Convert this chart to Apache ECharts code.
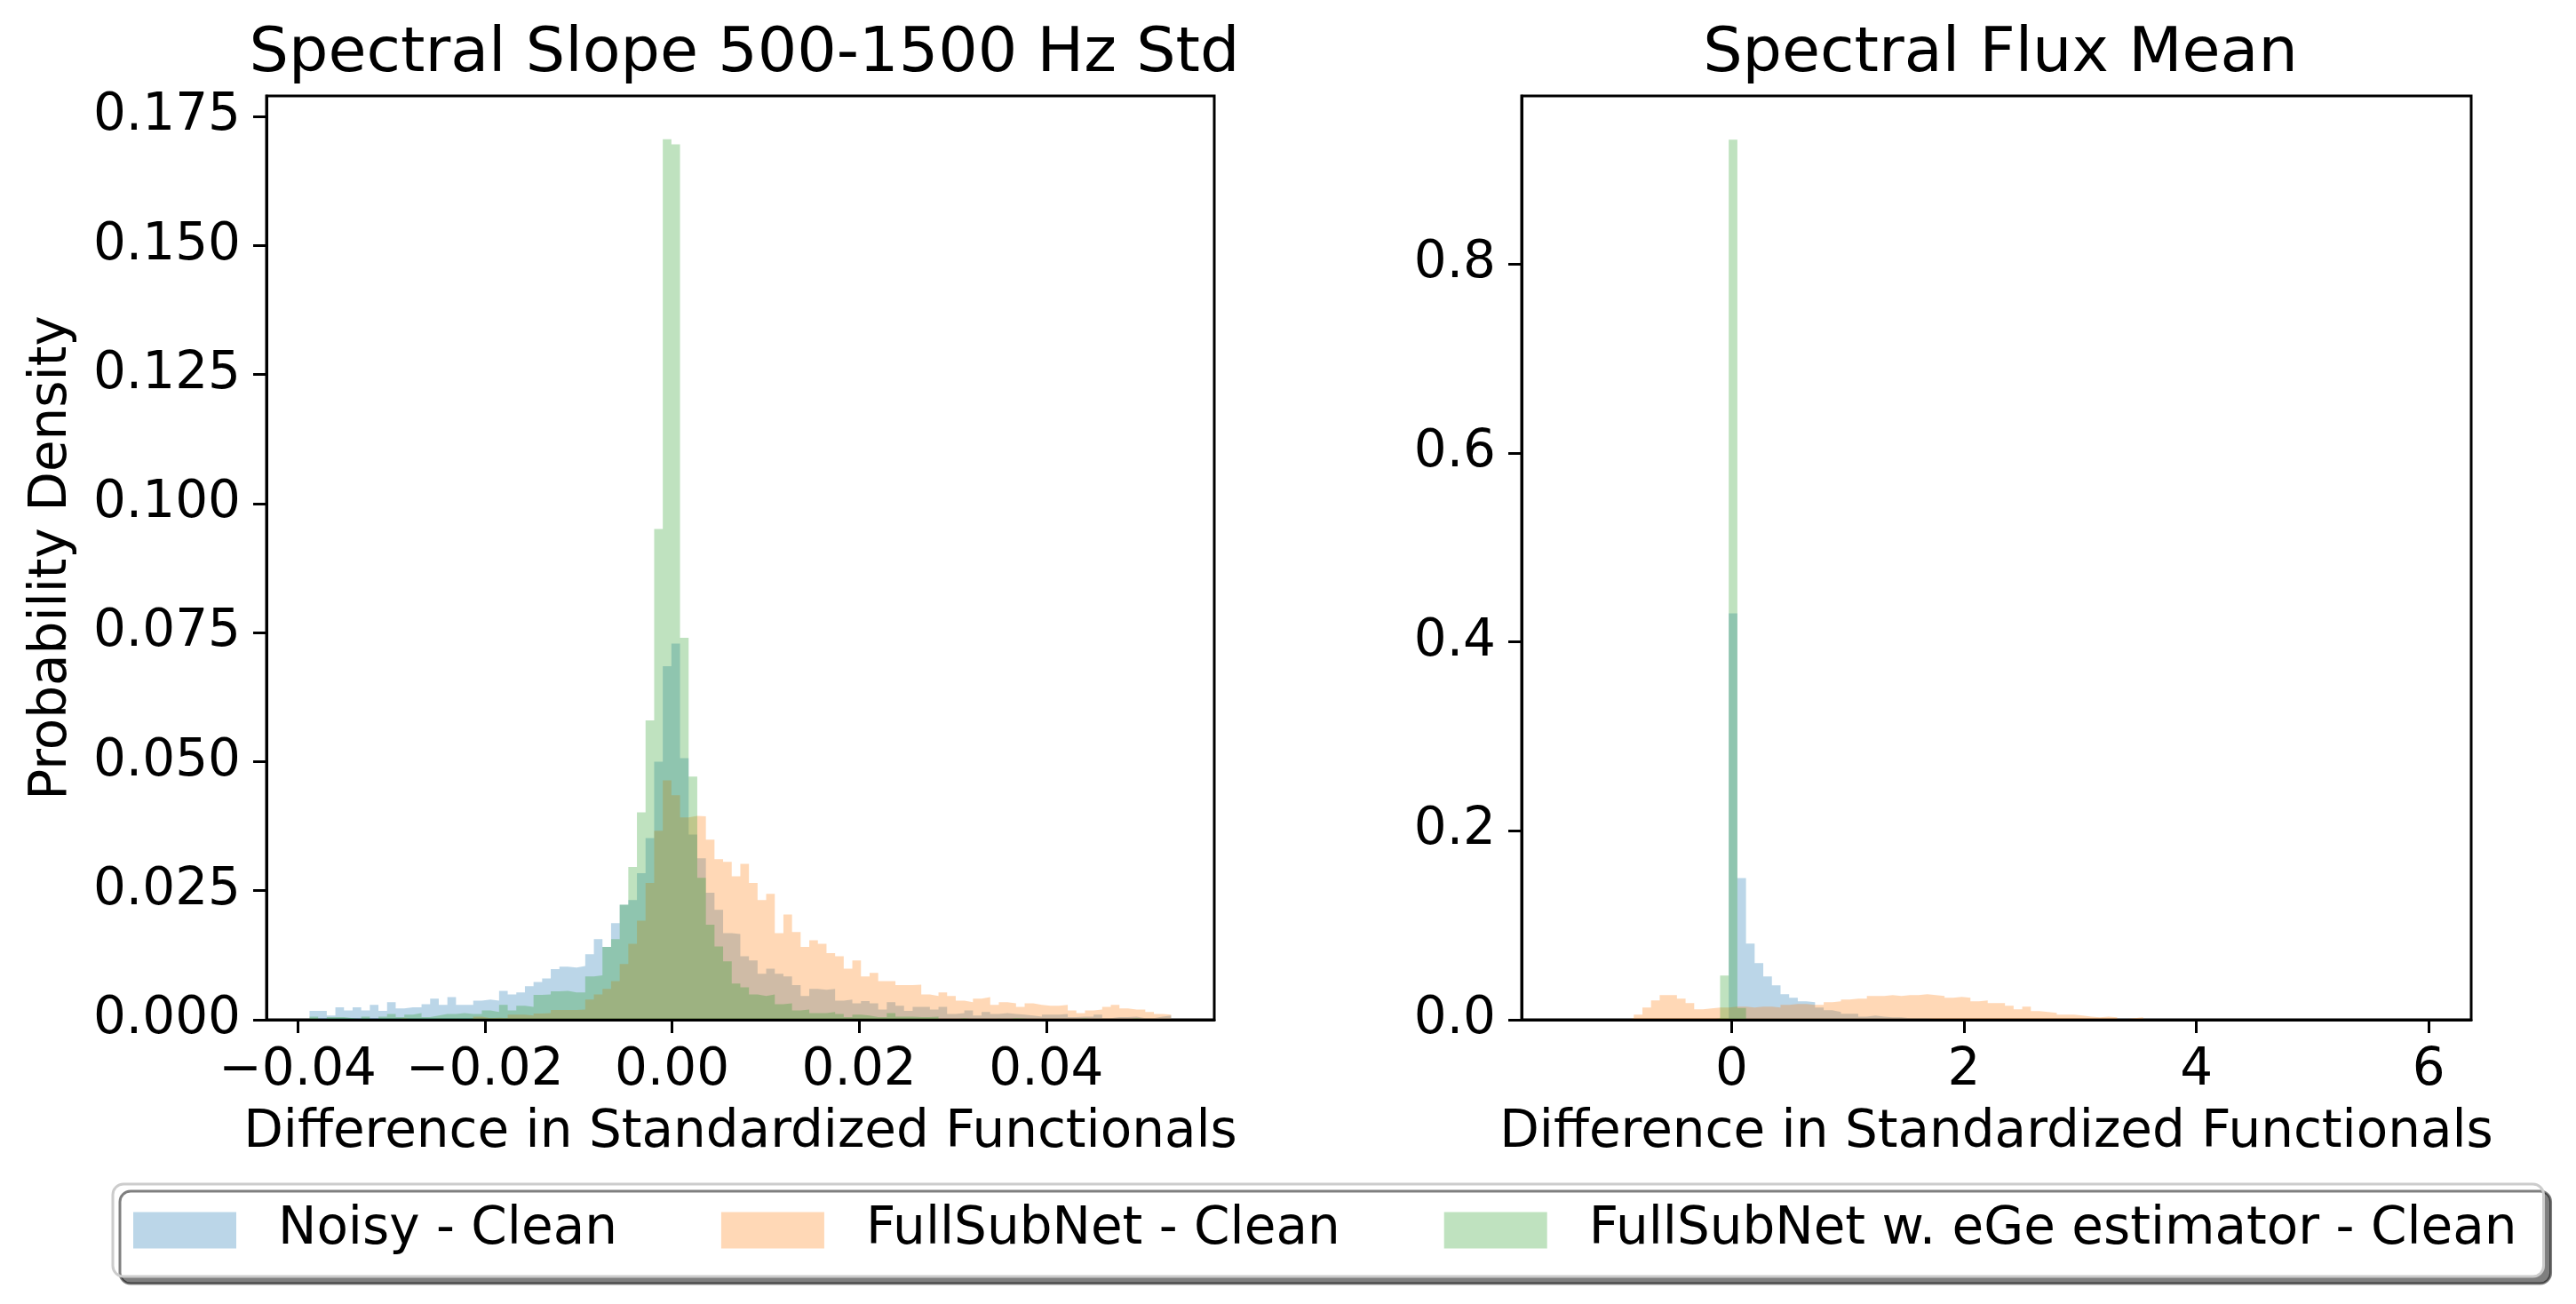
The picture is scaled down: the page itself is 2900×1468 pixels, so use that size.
<!DOCTYPE html>
<html><head><meta charset="utf-8">
<script src="https://cdn.jsdelivr.net/npm/echarts@6/dist/echarts.min.js"></script>
<style>html,body{margin:0;padding:0;background:#fff;}#c{width:2900px;height:1468px;}</style>
</head><body><div id="c"></div>
<script>
// ---------- data ----------
const seriesNames = ['Noisy - Clean', 'FullSubNet - Clean', 'FullSubNet w. eGe estimator - Clean'];
const leftTitle = 'Spectral Slope 500-1500 Hz Std';
const rightTitle = 'Spectral Flux Mean';
const xLabel = 'Difference in Standardized Functionals';
const yLabel = 'Probability Density';

// histogram bin ranges (100 equal bins each)
const leftBinRange = [-0.03873, 0.05334];
const rightBinRange = [-1.436, 5.993];

const leftNoisy = [
0.0017,0.0017,0.0008,0.0024,0.0018,0.0024,0.0018,0.0029,0.0017,0.0034,
0.0022,0.0024,0.0024,0.0030,0.0041,0.0029,0.0044,0.0029,0.0029,0.0037,
0.0039,0.0037,0.0056,0.0049,0.0053,0.0065,0.0073,0.0080,0.0098,0.0103,
0.0101,0.0104,0.0127,0.0156,0.0141,0.0187,0.0223,0.0232,0.0284,0.0352,
0.0500,0.0685,0.0729,0.0507,0.0359,0.0313,0.0246,0.0213,0.0168,0.0166,
0.0123,0.0115,0.0089,0.0099,0.0089,0.0084,0.0067,0.0046,0.0060,0.0058,
0.0060,0.0037,0.0039,0.0032,0.0036,0.0032,0.0020,0.0034,0.0027,0.0017,
0.0025,0.0025,0.0020,0.0025,0.0011,0.0013,0.0018,0.0008,0.0015,0.0011,
0.0013,0.0011,0.0010,0.0008,0.0006,0.0010,0.0010,0.0011,0.0005,0.0006,
0.0006,0.0010,0.0003,0.0005,0.0005,0.0006,0.0003,0.0003,0.0006,0.0008];
const leftFullSubNet = [
0.0002,0,0,0.0001,0,0,0.0001,0,0.0001,0.0001,
0.0003,0.0001,0.0001,0.0001,0.0002,0.0001,0.0002,0.0001,0.0002,0.0006,
0.0003,0.0004,0.0003,0.0010,0.0010,0.0008,0.0012,0.0013,0.0019,0.0019,
0.0019,0.0020,0.0039,0.0049,0.0060,0.0075,0.0108,0.0147,0.0192,0.0265,
0.0366,0.0464,0.0435,0.0392,0.0395,0.0394,0.0349,0.0311,0.0306,0.0278,
0.0302,0.0265,0.0232,0.0244,0.0168,0.0204,0.0170,0.0141,0.0154,0.0147,
0.0129,0.0123,0.0099,0.0115,0.0084,0.0091,0.0075,0.0075,0.0067,0.0067,
0.0068,0.0049,0.0046,0.0053,0.0046,0.0037,0.0034,0.0041,0.0044,0.0029,
0.0034,0.0032,0.0025,0.0032,0.0029,0.0027,0.0027,0.0029,0.0018,0.0013,
0.0018,0.0020,0.0025,0.0029,0.0022,0.0020,0.0020,0.0015,0.0011,0.0010];
const leftEGe = [
0.0006,0.0001,0.0005,0.0005,0.0003,0.0001,0.0006,0.0001,0.0006,0.0011,
0.0005,0.0010,0.0013,0.0005,0.0008,0.0011,0.0011,0.0013,0.0011,0.0011,
0.0018,0.0015,0.0029,0.0018,0.0027,0.0025,0.0048,0.0049,0.0055,0.0056,
0.0053,0.0053,0.0084,0.0086,0.0141,0.0156,0.0223,0.0296,0.0402,0.0580,
0.0951,0.1706,0.1696,0.0740,0.0471,0.0275,0.0184,0.0142,0.0113,0.0070,
0.0063,0.0049,0.0046,0.0049,0.0030,0.0032,0.0018,0.0020,0.0013,0.0013,
0.0015,0.0011,0.0005,0.0010,0.0008,0.0005,0.0005,0.0013,0.0006,0.0006,
0.0005,0.0005,0.0006,0.0001,0.0001,0.0003,0.0001,0,0.0001,0.0002,
0.0001,0.0003,0.0002,0.0001,0.0001,0.0001,0.0001,0.0001,0.0001,0.0003,
0.0001,0,0,0.0001,0.0001,0.0003,0.0001,0.0001,0,0];

const rightNoisy = [
0,0,0,0,0,0,0,0,0,0,
0,0,0,0,0,0,0,0,0,0.4303,
0.1500,0.0806,0.0599,0.0458,0.0364,0.0270,0.0232,0.0194,0.0185,0.0129,
0.0100,0.0082,0.0063,0.0063,0.0034,0.0044,0.0034,0.0025,0.0025,0.0016,
0.0016,0.0016,0.0006,0.0006,0.0006,0.0006,0.0003,0.0003,0.0003,0.0001,
0.0001,0.0001,0,0.0001,0,0,0,0,0,0,
0,0,0,0,0,0,0,0,0,0,
0,0,0,0,0,0,0,0,0,0,
0,0,0,0,0,0,0,0,0,0,
0,0,0,0,0,0,0,0,0,0];
const rightFullSubNet = [
0,0,0,0,0,0,0,0.0016,0.0053,0.0129,
0.0204,0.0260,0.0260,0.0223,0.0176,0.0110,0.0119,0.0129,0.0129,0.0138,
0.0138,0.0129,0.0138,0.0138,0.0129,0.0157,0.0166,0.0166,0.0157,0.0157,
0.0185,0.0194,0.0213,0.0223,0.0223,0.0251,0.0251,0.0260,0.0251,0.0260,
0.0260,0.0270,0.0260,0.0251,0.0232,0.0241,0.0232,0.0194,0.0204,0.0176,
0.0176,0.0147,0.0110,0.0138,0.0091,0.0082,0.0072,0.0053,0.0053,0.0044,
0.0034,0.0025,0.0034,0.0025,0.0006,0.0016,0.0025,0.0006,0.0003,0.0006,
0,0,0,0,0,0,0,0,0,0,
0,0,0,0,0,0,0,0,0,0,
0,0,0,0,0,0,0,0,0,0];
const rightEGe = [
0,0,0,0,0,0,0,0,0,0,
0,0,0,0,0,0,0,0.0016,0.0467,0.9318,
0.0125,0.0006,0,0,0,0,0,0,0,0,
0,0,0,0,0,0,0,0,0,0,
0,0,0,0,0,0,0,0,0,0,
0,0,0,0,0,0,0,0,0,0,
0,0,0,0,0,0,0,0,0,0,
0,0,0,0,0,0,0,0,0,0,
0,0,0,0,0,0,0,0,0,0,
0,0,0,0,0,0,0,0,0,0];

const leftXTicks = [-0.04, -0.02, 0, 0.02, 0.04];
const leftYTicks = [0, 0.025, 0.05, 0.075, 0.1, 0.125, 0.15, 0.175];
const rightXTicks = [0, 2, 4, 6];
const rightYTicks = [0, 0.2, 0.4, 0.6, 0.8];
const leftXExtent = [-0.04333, 0.05795];
const leftYExtent = [0, 0.179];
const rightXExtent = [-1.807, 6.365];
const rightYExtent = [0, 0.978];

// ---------- styling ----------
const FONT = 'DejaVu Sans';
const colors = ['rgba(31,119,180,0.3)', 'rgba(255,127,14,0.3)', 'rgba(44,160,44,0.3)'];

function stepData(range, vals) {
  const n = vals.length, w = (range[1] - range[0]) / n, out = [];
  for (let i = 0; i < n; i++) out.push([range[0] + i * w, vals[i]]);
  out.push([range[1], vals[n - 1]]);
  return out;
}
function fmtMinus(d) {
  return v => (v < 0 ? '\u2212' : '') + Math.abs(v).toFixed(d);
}
function xAxisCfg(idx, ext, ticks, dec) {
  return {
    type: 'value', gridIndex: idx, min: ext[0], max: ext[1], z: 5,
    name: xLabel, nameLocation: 'middle', nameGap: 99,
    nameTextStyle: { fontSize: 58, fontFamily: FONT, color: '#000', lineHeight: 58 },
    axisLine: { show: true, onZero: false, lineStyle: { color: '#000', width: 3 } },
    axisTick: { show: true, length: 15, customValues: ticks, lineStyle: { color: '#000', width: 3 } },
    axisLabel: { show: true, customValues: ticks, formatter: fmtMinus(dec), margin: 29,
      fontSize: 58, fontFamily: FONT, color: '#000', lineHeight: 58 },
    splitLine: { show: false }
  };
}
function yAxisCfg(idx, ext, ticks, dec, withName) {
  const c = {
    type: 'value', gridIndex: idx, min: ext[0], max: ext[1], z: 5,
    axisLine: { show: true, onZero: false, lineStyle: { color: '#000', width: 3 } },
    axisTick: { show: true, length: 15, customValues: ticks, lineStyle: { color: '#000', width: 3 } },
    axisLabel: { show: true, customValues: ticks, formatter: fmtMinus(dec), margin: 29,
      fontSize: 58, fontFamily: FONT, color: '#000' },
    splitLine: { show: false }
  };
  if (withName) {
    c.name = yLabel; c.nameLocation = 'middle'; c.nameGap = 212; c.nameRotate = 90;
    c.nameTextStyle = { fontSize: 58, fontFamily: FONT, color: '#000', lineHeight: 58 };
  }
  return c;
}
function histSeries(name, idx, range, vals, color, z) {
  return {
    name: name, type: 'line', xAxisIndex: idx, yAxisIndex: idx, step: 'end',
    data: stepData(range, vals), showSymbol: false, symbol: 'none', silent: true,
    color: color, z: z,
    lineStyle: { width: 0, opacity: 0 },
    areaStyle: { color: color, opacity: 1 },
    animation: false
  };
}

const chart = echarts.init(document.getElementById('c'), null, { renderer: 'canvas' });
chart.setOption({
  animation: false,
  backgroundColor: '#fff',
  title: [
    { text: leftTitle, left: 833, top: 22, textAlign: 'center',
      textStyle: { fontSize: 70, fontWeight: 'normal', fontFamily: FONT, color: '#000' } },
    { text: rightTitle, left: 2247, top: 22, textAlign: 'center',
      textStyle: { fontSize: 70, fontWeight: 'normal', fontFamily: FONT, color: '#000' } }
  ],
  grid: [
    { left: 300, top: 108, width: 1067, height: 1040, show: true, borderColor: '#000', borderWidth: 3, backgroundColor: 'rgba(0,0,0,0)' },
    { left: 1713, top: 108, width: 1069, height: 1040, show: true, borderColor: '#000', borderWidth: 3, backgroundColor: 'rgba(0,0,0,0)' }
  ],
  xAxis: [
    xAxisCfg(0, leftXExtent, leftXTicks, 2),
    xAxisCfg(1, rightXExtent, rightXTicks, 0)
  ],
  yAxis: [
    yAxisCfg(0, leftYExtent, leftYTicks, 3, true),
    yAxisCfg(1, rightYExtent, rightYTicks, 1, false)
  ],
  legend: {
    left: 127, top: 1333, orient: 'horizontal', selectedMode: false,
    icon: 'rect', itemWidth: 116, itemHeight: 41, itemGap: 117,
    data: seriesNames.map((n, i) => ({ name: n, itemStyle: { color: colors[i], borderWidth: 0 } })),
    textStyle: { fontSize: 58, fontFamily: FONT, color: '#000', lineHeight: 58, padding: [0, 0, 0, 42] },
    padding: [23, 30, 23, 23],
    backgroundColor: '#fff', borderColor: '#cccccc', borderWidth: 3, borderRadius: 12,
    shadowColor: 'rgba(0,0,0,0.5)', shadowBlur: 0, shadowOffsetX: 8, shadowOffsetY: 8
  },
  series: [
    histSeries(seriesNames[0], 0, leftBinRange, leftNoisy, colors[0], 2),
    histSeries(seriesNames[1], 0, leftBinRange, leftFullSubNet, colors[1], 3),
    histSeries(seriesNames[2], 0, leftBinRange, leftEGe, colors[2], 4),
    histSeries(seriesNames[0], 1, rightBinRange, rightNoisy, colors[0], 2),
    histSeries(seriesNames[1], 1, rightBinRange, rightFullSubNet, colors[1], 3),
    histSeries(seriesNames[2], 1, rightBinRange, rightEGe, colors[2], 4)
  ]
});
</script></body></html>
